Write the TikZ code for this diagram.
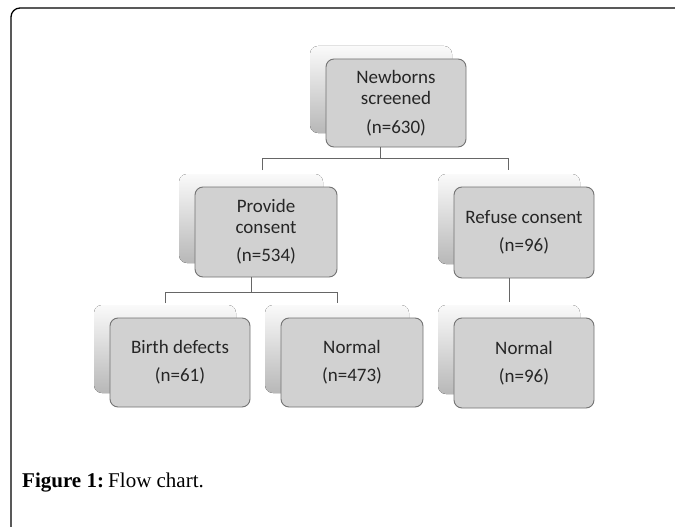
\documentclass[tikz,border=0pt]{standalone}
\usepackage{fontspec}
\setmainfont{Liberation Serif}
\newfontfamily\boxfont{Carlito}
\tikzset{
  flowbox/.style={draw=black!55, line width=0.9pt, fill=black!18, rounded corners=8pt,
    inner sep=0pt, align=center, font=\boxfont\fontsize{19}{21}\selectfont, text=black!85},
  shadowbox/.style={rounded corners=8pt, top color=black!2, bottom color=black!28, draw=none},
  link/.style={draw=black!60, line width=0.9pt},
}
\newcommand{\mkbox}[6]{% name, x1, y1, x2, y2, text
  \fill[shadowbox] (#2-16,#3-13) rectangle (#4-14,#5-14);
  \node[flowbox, minimum width=#4-#2, minimum height=#5-#3] (#1) at ({(#2+#4)/2},{(#3+#5)/2}) {#6};
}
\begin{document}
\begin{tikzpicture}[x=1pt,y=-1pt]
\useasboundingbox (0,0) rectangle (675,527);
\fill[white] (0,0) rectangle (675,527);
% outer frame
\draw[line width=1.3pt, rounded corners=9pt] (11,540) -- (11,8) -- (690,8);

\mkbox{newborns}{326}{59}{466}{147}{Newborns\\screened\\[8pt](n=630)}
\mkbox{provide}{195}{187}{337}{277}{Provide\\consent\\[7pt](n=534)}
\mkbox{refuse}{454}{187}{594}{278}{Refuse consent\\[7pt](n=96)}
\mkbox{birth}{110}{318}{250}{407}{Birth defects\\[7pt](n=61)}
\mkbox{normala}{281}{318}{423}{407}{Normal\\[7pt](n=473)}
\mkbox{normalb}{454}{318}{594}{408}{Normal\\[7pt](n=96)}

% connectors
\coordinate (j1) at (380,158);
\coordinate (j1l) at (262,158);
\coordinate (j1r) at (508,158);
\coordinate (t1l) at (262,170);
\coordinate (t1r) at (508,170);
\draw[link] (newborns.south -| j1) -- (j1);
\draw[link] (t1l) -- (j1l) -- (j1r) -- (t1r);

\coordinate (j2) at (251,292);
\coordinate (j2l) at (165,292);
\coordinate (j2r) at (337,292);
\coordinate (t2l) at (165,303);
\coordinate (t2r) at (337,303);
\draw[link] (provide.south -| j2) -- (j2);
\draw[link] (t2l) -- (j2l) -- (j2r) -- (t2r);

\coordinate (t3) at (509,302);
\draw[link] (refuse.south -| t3) -- (t3);

\node[anchor=base west, inner sep=0pt, font=\fontsize{21}{24}\selectfont] (caption) at (22,487) {\textbf{Figure 1:}\hspace{0.2em}Flow chart.};
\end{tikzpicture}
\end{document}
